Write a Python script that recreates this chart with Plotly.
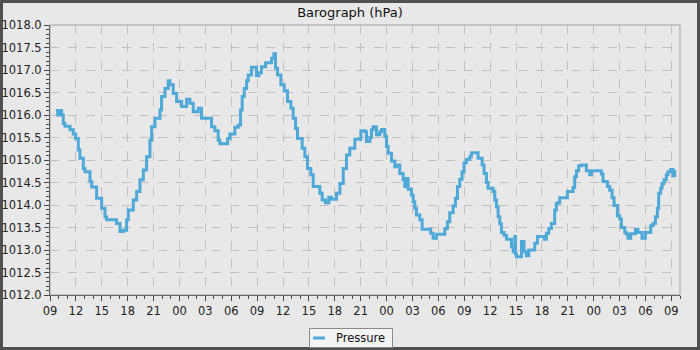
import datetime as dt
import plotly.graph_objects as go

# ---- data (hours since 09:00 on day 1, pressure in hPa) ----
start_time = dt.datetime(2024, 1, 1, 9, 0)
hours = [
    0.69, 0.89, 1.08, 1.35, 1.54, 1.74, 2.32, 2.70, 2.97, 3.28, 3.47, 3.86, 4.05, 4.63, 4.83,
    5.40, 5.98, 6.37, 6.56, 7.72, 8.11, 8.49, 8.88, 9.07, 9.65, 10.04, 10.42, 10.81, 11.19,
    11.58, 11.77, 12.16, 12.74, 12.93, 13.32, 13.70, 13.90, 14.28, 14.67, 15.25, 15.83, 16.21,
    16.60, 17.18, 17.56,
    18.72, 19.11, 19.49, 19.69, 20.58, 20.85, 21.42, 21.81, 22.08, 22.27, 22.51, 22.78, 22.97,
    23.35, 23.93, 24.20, 24.51, 24.98, 25.67, 25.94, 26.13, 26.37, 26.75, 27.14, 27.52, 27.91,
    28.18, 28.45, 28.68, 29.22, 29.53, 29.84, 30.23, 30.50, 31.27, 31.54, 31.92, 32.31, 32.62,
    33.20, 33.59, 33.98, 34.36, 34.74, 35.32, 36.02,
    36.48, 36.67, 37.06, 37.25, 37.44, 37.83, 38.22, 38.41, 38.79, 38.99, 39.18, 39.57, 39.95,
    40.15, 40.53, 40.92, 41.11, 41.30, 41.50, 41.88, 42.08, 42.27, 42.46, 42.85, 43.12, 44.12,
    44.39, 44.78, 45.75, 46.05, 46.32, 46.71, 46.98, 47.21, 47.48, 47.75, 47.98, 48.25, 48.64,
    48.83, 49.60, 50.07, 50.30, 50.57, 50.76, 51.34, 51.54, 51.73, 51.92, 52.12, 52.31, 52.62,
    52.89, 53.47, 53.67, 53.86, 53.94, 54.05, 54.63, 54.93, 55.01,
    55.20, 55.47, 56.17, 56.48, 57.25, 57.52, 57.79, 58.10, 58.48, 58.68, 58.87, 59.06, 59.95,
    60.61, 60.80, 61.00, 61.26, 61.57, 62.15, 62.54, 62.73, 63.89, 64.08, 64.59, 64.86, 65.13,
    65.36, 65.75, 66.02, 66.21, 66.60, 66.79, 66.98, 67.29, 67.83, 68.14, 68.60, 68.99, 69.61,
    69.88, 70.15, 70.38, 70.53, 70.76, 70.92, 71.15, 71.42, 71.61, 71.92, 72.19, 72.39, 72.50,
    72.77,
]
pressure = [
    1016.10, 1016.00, 1016.10, 1016.00, 1015.81, 1015.75, 1015.67, 1015.58, 1015.48, 1015.22,
    1015.04, 1014.81, 1014.74, 1014.52, 1014.40, 1014.15, 1013.93, 1013.74, 1013.67, 1013.59,
    1013.41, 1013.44, 1013.67, 1013.89, 1014.11, 1014.30, 1014.56, 1014.78, 1015.07, 1015.44,
    1015.74, 1015.93, 1016.11, 1016.41, 1016.59, 1016.76, 1016.67, 1016.48, 1016.30, 1016.19,
    1016.35, 1016.26, 1016.07, 1016.15, 1015.93,
    1015.74, 1015.65, 1015.44, 1015.36, 1015.48, 1015.58, 1015.73, 1015.78, 1016.11, 1016.41,
    1016.59, 1016.76, 1016.89, 1017.06, 1016.87, 1016.94, 1017.07, 1017.16, 1017.26, 1017.36,
    1017.04, 1016.89, 1016.67, 1016.54, 1016.30, 1016.15, 1015.93, 1015.70, 1015.48, 1015.26,
    1015.07, 1014.81, 1014.67, 1014.41, 1014.26, 1014.11, 1014.05, 1014.17, 1014.13, 1014.26,
    1014.48, 1014.81, 1015.11, 1015.26, 1015.46, 1015.65,
    1015.63, 1015.41, 1015.50, 1015.67, 1015.74, 1015.56, 1015.63, 1015.68, 1015.52, 1015.30,
    1015.15, 1014.98, 1014.85, 1014.89, 1014.70, 1014.56, 1014.41, 1014.59, 1014.35, 1014.22,
    1014.07, 1013.93, 1013.78, 1013.67, 1013.46, 1013.37, 1013.26, 1013.35, 1013.48, 1013.63,
    1013.83, 1013.98, 1014.15, 1014.41, 1014.57, 1014.74, 1014.94, 1015.01, 1015.07, 1015.16,
    1015.04, 1014.89, 1014.70, 1014.50, 1014.37, 1014.30, 1014.11, 1013.96, 1013.74, 1013.58,
    1013.39, 1013.33, 1013.24, 1013.07, 1012.96, 1013.30, 1012.91, 1012.85, 1013.19, 1012.96,
    1012.96, 1012.87, 1013.00, 1013.15, 1013.30, 1013.24, 1013.37, 1013.48, 1013.59, 1013.89,
    1014.04, 1014.05, 1014.16, 1014.30, 1014.39, 1014.63, 1014.76, 1014.87, 1014.89, 1014.76,
    1014.67, 1014.76, 1014.69, 1014.52, 1014.41, 1014.33, 1014.16, 1013.99, 1013.76, 1013.69,
    1013.50, 1013.39, 1013.35, 1013.26, 1013.36, 1013.46, 1013.39, 1013.26, 1013.39, 1013.54,
    1013.59, 1013.74, 1013.93, 1014.26, 1014.37, 1014.48, 1014.56, 1014.67, 1014.74, 1014.79,
    1014.65, 1014.78,
]
series_name = "Pressure"
chart_title = "Barograph (hPa)"

times = [start_time + dt.timedelta(hours=h) for h in hours]

BG = "#e8e8e8"
LINE = "#4ea8d8"
FONT = "DejaVu Sans"

fig = go.Figure()
fig.add_trace(go.Scatter(
    x=times, y=pressure, mode="lines", name=series_name, showlegend=False,
    line=dict(color=LINE, width=3, shape="hv"),
))

L, R, T, B = 50, 20, 25, 55
W, H = 700, 350
pw, ph = W - L - R, H - T - B

def px2paper(px, py):
    return (px - L) / pw, (H - B - py) / ph

# outer dark frame
fx0, fy0 = px2paper(1.5, 348.5)
fx1, fy1 = px2paper(698.5, 1.5)
fig.add_shape(type="rect", xref="paper", yref="paper", x0=fx0, y0=fy0, x1=fx1, y1=fy1,
              line=dict(color="#505050", width=3), layer="below")
# plot border (top/right light grey)
fig.add_shape(type="rect", xref="paper", yref="paper", x0=0, y0=0, x1=1, y1=1,
              line=dict(color="#a0a0a0", width=1), layer="below")

# legend box (drawn manually to match the compact original legend)
lx0, ly0 = px2paper(309.5, 347.5)
lx1, ly1 = px2paper(392.5, 328.5)
fig.add_shape(type="rect", xref="paper", yref="paper", x0=lx0, y0=ly0, x1=lx1, y1=ly1,
              line=dict(color="#8a8a8a", width=1), fillcolor="#f3f3f3", layer="above")
sx0, sy = px2paper(313, 338)
sx1, _ = px2paper(325, 338)
fig.add_shape(type="line", xref="paper", yref="paper", x0=sx0, y0=sy, x1=sx1, y1=sy,
              line=dict(color=LINE, width=3), layer="above")
tx, ty = px2paper(333.5, 338)
fig.add_annotation(text=series_name, xref="paper", yref="paper", x=tx, y=ty,
                   xanchor="left", yanchor="middle", showarrow=False,
                   font=dict(family=FONT, size=11.5, color="#111111"))

fig.update_layout(
    width=W, height=H,
    margin=dict(l=L, r=R, t=T, b=B, autoexpand=False),
    paper_bgcolor=BG, plot_bgcolor=BG,
    font=dict(family=FONT, size=11.5, color="#222222"),
    title=dict(text=chart_title, x=0.5, xref="container", xanchor="center",
               y=1 - 12 / H, yref="container",
               yanchor="middle", font=dict(family=FONT, size=13, color="#111111")),
    showlegend=False,
)
fig.update_xaxes(
    type="date",
    range=[start_time, start_time + dt.timedelta(hours=73)],
    tickformat="%H", dtick=3 * 3600000, tick0=start_time,
    showgrid=True, gridcolor="#c0c0c0", griddash="dash", gridwidth=1,
    showline=True, linecolor="#666666", linewidth=1,
    ticks="outside", ticklen=5, tickcolor="#444444",
    minor=dict(dtick=3600000, ticks="outside", ticklen=3, tickcolor="#444444", showgrid=False),
    zeroline=False, fixedrange=True, automargin=False,
)
fig.update_yaxes(
    range=[1012.0, 1018.0], dtick=0.5, tickformat=".1f",
    showgrid=True, gridcolor="#c0c0c0", griddash="dash", gridwidth=1,
    showline=True, linecolor="#666666", linewidth=1,
    ticks="outside", ticklen=5, tickcolor="#444444",
    minor=dict(dtick=0.1, ticks="outside", ticklen=3, tickcolor="#444444", showgrid=False),
    zeroline=False, fixedrange=True, automargin=False,
)

fig.write_html("out.html", config={"displayModeBar": False})
